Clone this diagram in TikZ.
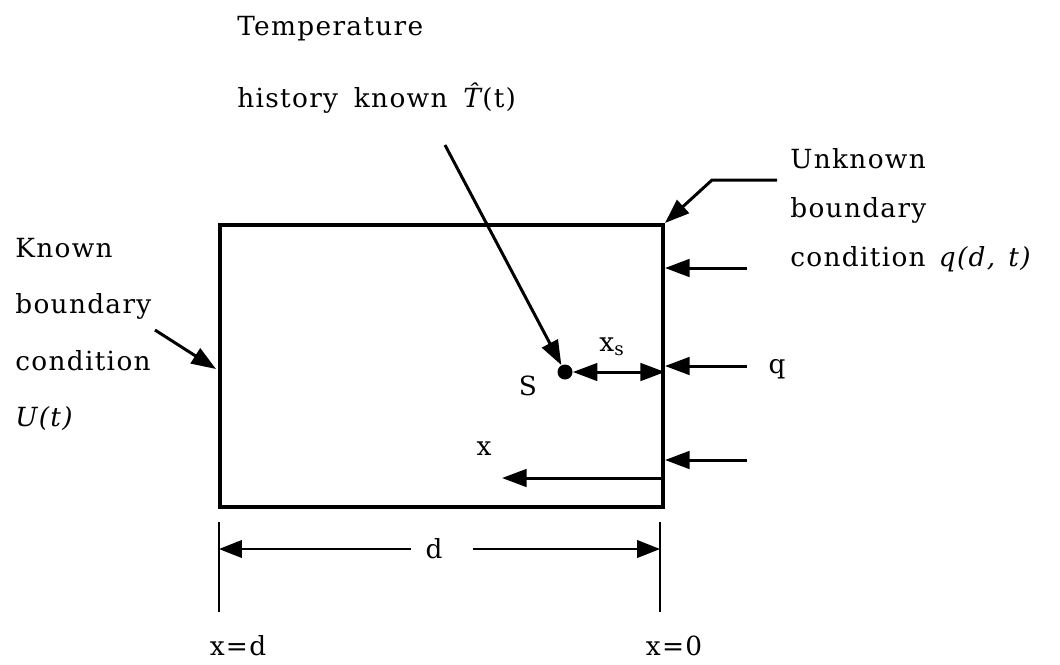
\documentclass[tikz,border=0pt]{standalone}
\usepackage{fontspec}
\setmainfont{DejaVu Serif}[LetterSpace=5]
\usetikzlibrary{arrows.meta}

\begin{document}
\begin{tikzpicture}[
    x=0.02cm, y=-0.02cm,
    every node/.style={font=\fontsize{15}{18}\selectfont},
    slab/.style={rectangle, draw, line width=2.3pt, inner sep=0pt},
    dot/.style={circle, fill, inner sep=0pt, minimum size=0.3cm},
    txt/.style={anchor=north west, inner sep=0pt, align=left},
    lbl/.style={inner sep=1pt},
    a/.style={-{Triangle[length=14pt, width=10pt]}, line width=1.7pt},
    aa/.style={{Triangle[length=14pt, width=10pt]}-{Triangle[length=14pt, width=10pt]}, line width=1.7pt},
    dm/.style={line width=1.1pt},
    da/.style={-{Triangle[length=13pt, width=10pt]}, line width=1.1pt},
]
\useasboundingbox (0,0) rectangle (1060,664);

% body
\node[slab, minimum width=8.86cm, minimum height=5.64cm] (slab) at (441.5,366) {};
\node[dot] (s) at (565,372) {};
\node[lbl] (slbl) at (528,386) {S};

% texts
\node[txt, font=\fontsize{15}{41}\selectfont] (temp) at (237,16)
    {Temperature\\history\hspace{0.6em}known\hspace{0.6em}\textit{\^{T}}(t)};
\node[txt, font=\fontsize{15}{32}\selectfont] (known) at (15,238)
    {Known\\boundary\\condition\\\textit{U(t)}};
\node[txt, font=\fontsize{15}{28}\selectfont] (unknown) at (790,148)
    {Unknown\\boundary\\condition\hspace{0.5em}\textit{q(d,\hspace{0.5em}t)}};

% pointers
\coordinate (tp) at (445,145);
\coordinate (kp) at (155,330);
\coordinate (ktip) at (216,369);
\coordinate (up) at (777,180);
\draw[a] (tp) -- (s);
\draw[a] (kp) -- (ktip);
\draw[a] (up) -- ++(-65,0) -- (slab.north east);

% flux arrows
\coordinate (q1) at (747,268);
\coordinate (q2) at (747,366);
\coordinate (q3) at (747,460);
\draw[a] (q1) -- (slab.east |- q1);
\draw[a] (q2) -- (slab.east |- q2);
\draw[a] (q3) -- (slab.east |- q3);
\node[lbl] (qlbl) at (777,369) {q};

\draw[aa] (s) -- (s -| slab.east);
\node[lbl] (xslbl) at (612,347) {x\textsubscript{s}};

\coordinate (xa) at (663,478);
\coordinate (xb) at (502,478);
\draw[a] (xa) -- (xb);
\node[lbl] (xlbl) at (484,449) {x};

% dimension
\coordinate (dl) at (219,549);
\coordinate (dr) at (660,549);
\draw[dm] (dl) ++(0,-27) -- ++(0,90);
\draw[dm] (dr) ++(0,-27) -- ++(0,90);
\node[lbl] (dlbl) at (434,549) {d};
\draw[da] (dlbl.west) ++(-12,0) -- (dl);
\draw[da] (dlbl.east) ++(28,0) -- (dr);

\node[lbl] (xd) at (238,646) {x=d};
\node[lbl] (x0) at (674,646) {x=0};
\end{tikzpicture}
\end{document}
